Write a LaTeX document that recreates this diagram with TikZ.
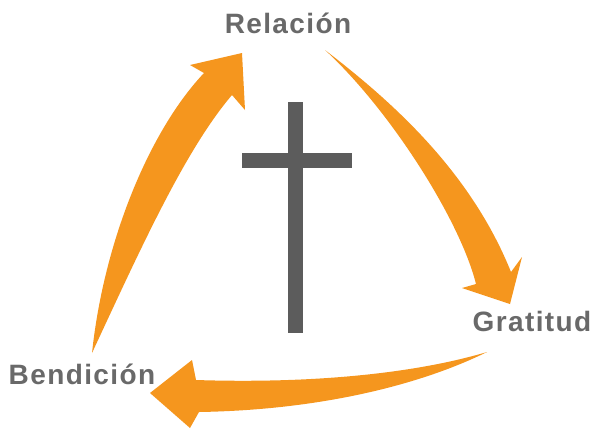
\documentclass[tikz,border=0pt]{standalone}
\usepackage{fontspec}
\newfontfamily\labfont[LetterSpace=5]{Liberation Sans}
\definecolor{arroworange}{RGB}{245,150,30}
\definecolor{crossgray}{RGB}{92,92,92}
\definecolor{textgray}{RGB}{105,105,105}
\tikzset{
  lab/.style={font=\labfont\bfseries\fontsize{28}{30}\selectfont, text=textgray, inner sep=0pt, anchor=center},
  arrowfill/.style={fill=arroworange, draw=none},
  crossbar/.style={fill=crossgray, draw=none}
}
\begin{document}
\begin{tikzpicture}[x=1pt,y=-1pt]
\useasboundingbox (0,0) rectangle (593,432);
% labels
\node[lab] (rel) at (288,23) {Relación};
\node[lab] (gra) at (532,321) {Gratitud};
\node[lab] (ben) at (82,374) {Bendición};
% cross
\fill[crossbar] (288,102) rectangle (303,333);
\fill[crossbar] (242,153) rectangle (352,168);
% arrow Relacion -> Gratitud
\fill[arrowfill] (325,50) .. controls (390,100) and (470,170) .. (511,272)
  -- (522,257) -- (510,304) -- (462,288) -- (476,284)
  .. controls (460,220) and (390,110) .. (325,50) -- cycle;
% arrow Gratitud -> Bendicion
\fill[arrowfill] (487,352) .. controls (420,385) and (320,410) .. (199,412)
  -- (190,428) -- (150,393) -- (192,360) -- (196,380)
  .. controls (320,384) and (420,372) .. (487,352) -- cycle;
% arrow Bendicion -> Relacion
\fill[arrowfill] (92,353) .. controls (104,240) and (150,130) .. (204,73)
  -- (190,65) -- (242,53) -- (245,110) -- (232,95)
  .. controls (185,150) and (140,250) .. (92,353) -- cycle;
\end{tikzpicture}
\end{document}
